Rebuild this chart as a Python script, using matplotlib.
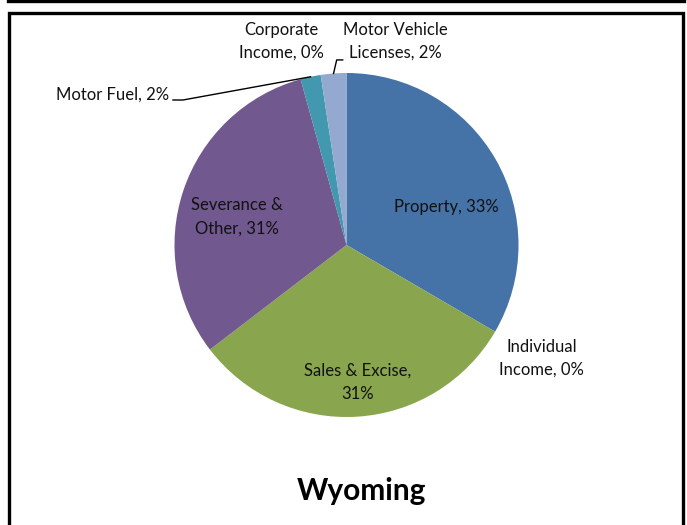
import matplotlib
matplotlib.use("Agg")
import matplotlib.pyplot as plt
import numpy as np
from matplotlib.patches import Rectangle
from matplotlib.lines import Line2D

# share of tax revenue, clockwise from 12 o'clock
categories = ["Property", "Individual Income", "Sales & Excise", "Severance & Other",
              "Motor Fuel", "Corporate Income", "Motor Vehicle Licenses"]
shares = [33.4, 0.0, 31.2, 31.1, 1.9, 0.0, 2.4]
pct_labels = ["33%", "0%", "31%", "31%", "2%", "0%", "2%"]
# how the data labels are wrapped in the chart
label_text = ["Property, {}", "Individual\nIncome, {}", "Sales & Excise,\n{}",
              "Severance &\nOther, {}", "Motor Fuel, {}", "Corporate\nIncome, {}",
              "Motor Vehicle\nLicenses, {}"]
colors = ["#4572A7", "#AA4643", "#89A54E", "#71588F", "#4198AF", "#DB843D", "#93A9CF"]
title = "Wyoming"

plt.rcParams["font.family"] = ["Lato", "DejaVu Sans"]

W, H = 687, 525
fig = plt.figure(figsize=(W / 100, H / 100), dpi=100)

# pie area: centre (346.5, 245) px, radius 172 px
cx, cy, r = 346.5, 245, 172
ax = fig.add_axes([(cx - r) / W, (H - cy - r) / H, 2 * r / W, 2 * r / H])
wedges, _ = ax.pie(shares, colors=colors, startangle=90, counterclock=False,
                   radius=1, wedgeprops=dict(linewidth=0))
ax.set_xlim(-1, 1)
ax.set_ylim(-1, 1)
ax.set_aspect("equal")
ax.axis("off")

# label positions (data units of the pie axes)
label_pos = [(0.579, 0.223), (1.134, -0.659), (0.067, -0.797), (-0.637, 0.163),
             (-1.360, 0.876), (-0.381, 1.185), (0.282, 1.185)]
for fmt, pct, (x, y) in zip(label_text, pct_labels, label_pos):
    ax.text(x, y, fmt.format(pct), ha="center", va="center", fontsize=12,
            linespacing=1.55, color="#111111")

# leader lines for the thin slices
def mid_point(w, rad=1.0):
    a = np.deg2rad((w.theta1 + w.theta2) / 2)
    return rad * np.cos(a), rad * np.sin(a)

mx, my = mid_point(wedges[4])
ax.add_line(Line2D([-1.009, -0.951, mx], [0.843, 0.843, my], color="black",
                   lw=1, clip_on=False))
vx, vy = mid_point(wedges[6])
ax.add_line(Line2D([vx, -0.057, -0.022], [vy, 1.076, 1.076], color="black",
                   lw=1, clip_on=False))

fig.text(361.7 / W, 1 - 491 / H, title, ha="center", va="center",
         fontsize=21.5, fontweight="bold")

# chart frame
fig.add_artist(Rectangle((8.5 / W, -0.05), 674.5 / W, 1 - 12.5 / H + 0.05,
                         transform=fig.transFigure, fill=False,
                         edgecolor="black", lw=2.4))
fig.add_artist(Line2D([8 / W, 683.5 / W], [1 - 0.8 / H, 1 - 0.8 / H],
                      transform=fig.transFigure, color="black", lw=2.4))

fig.savefig("out.png", dpi=100)
